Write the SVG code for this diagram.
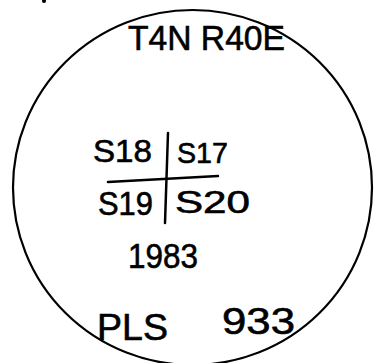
<svg xmlns="http://www.w3.org/2000/svg" width="383" height="363" viewBox="0 0 383 363">
<style>
.t{font-family:"Liberation Sans",Arial,sans-serif;fill:#000;stroke:#000;stroke-width:0.6}
.ln{stroke:#000;stroke-width:2.5;fill:none;stroke-linecap:round}
</style>
<rect width="383" height="363" fill="#fff"/>
<g id="cap">
<ellipse class="ln" cx="192.5" cy="187.5" rx="179.5" ry="177.5" style="stroke-width:2.2"/>
<circle cx="44" cy="1" r="2" fill="#000"/>
</g>
<g id="grid" class="ln">
<line x1="168" y1="133" x2="165" y2="223"/>
<line x1="108" y1="182" x2="218" y2="176"/>
</g>
<g id="labels">
<text class="t" x="128" y="50" font-size="35" textLength="157" lengthAdjust="spacingAndGlyphs">T4N R40E</text>
<text class="t" x="93" y="162" font-size="31" textLength="59" lengthAdjust="spacingAndGlyphs">S18</text>
<text class="t" x="177" y="163" font-size="30" textLength="51" lengthAdjust="spacingAndGlyphs">S17</text>
<text class="t" x="98" y="215" font-size="33" textLength="55" lengthAdjust="spacingAndGlyphs">S19</text>
<text class="t" x="175" y="213" font-size="32" textLength="75" lengthAdjust="spacingAndGlyphs">S20</text>
<text class="t" x="128" y="268" font-size="35" textLength="70" lengthAdjust="spacingAndGlyphs">1983</text>
<text class="t" x="97" y="340" font-size="36" textLength="71" lengthAdjust="spacingAndGlyphs">PLS</text>
<text class="t" x="222" y="334" font-size="36" textLength="73" lengthAdjust="spacingAndGlyphs">933</text>
</g>
</svg>
